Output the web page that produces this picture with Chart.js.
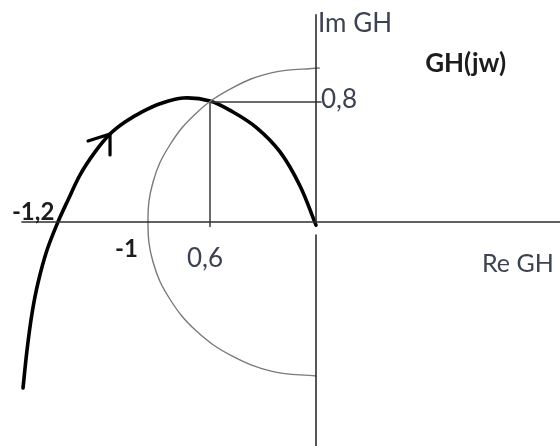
<!DOCTYPE html>
<html>
<head>
<meta charset="utf-8">
<script src="https://cdn.jsdelivr.net/npm/chart.js@4"></script>
<style>
  html, body { margin: 0; padding: 0; background: #fff; }
  #wrap { width: 560px; height: 446px; position: relative; }
</style>
</head>
<body>
<div id="wrap"><canvas id="c"></canvas></div>
<script>
/* ================================================
   DATA  (unit circle radius = 1)
================================================ */

/* GH(jw) locus, from low frequency (bottom left) to the origin */
const curveRe = [-1.744, -1.720, -1.690, -1.655, -1.601, -1.536, -1.476, -1.405, -1.315, -1.226,
                 -1.137, -1.030, -0.929, -0.792, -0.631, -0.494, -0.351, -0.214, -0.095, 0.000];
const curveIm = [-1.078, -0.831, -0.591, -0.396, -0.182, 0.000, 0.143, 0.305, 0.455, 0.571,
                  0.649, 0.718, 0.768, 0.805, 0.786, 0.714, 0.610, 0.455, 0.234, -0.020];

/* left half of the unit circle */
const circleRe = [0.02, -0.26, -0.50, -0.71, -0.87, -0.97, -1.00, -0.97, -0.87, -0.71, -0.50, -0.26, 0.00];
const circleIm = [1.00, 0.97, 0.87, 0.71, 0.50, 0.26, 0.00, -0.26, -0.50, -0.71, -0.87, -0.97, -1.00];

/* crossing with the unit circle */
const crossRe = -0.631;
const crossIm = 0.779;

/* direction arrow on the locus */
const arrowRe = [-1.357, -1.226, -1.226];
const arrowIm = [0.526, 0.571, 0.435];

const seriesName = 'GH(jw)';
const axisTitles = ['Re GH', 'Im GH'];
const tickLabels = ['-1,2', '-1', '0,6', '0,8'];

/* ================================================
   HELPERS
================================================ */

function pts(xs, ys) {
  return xs.map((x, i) => ({ x, y: ys[i] }));
}

function lineSet(data, color, width, tension = 0) {
  return {
    data,
    showLine: true,
    borderColor: color,
    borderWidth: width,
    pointRadius: 0,
    tension,
    borderCapStyle: 'round',
    borderJoinStyle: 'round',
    fill: false,
  };
}

/* text notes, drawn after the lines */
const notes = [
  { text: axisTitles[1], x: 0.012,  y: 1.234,  bold: false, size: 26 },
  { text: seriesName,    x: 0.650,  y: 0.974,  bold: true,  size: 26 },
  { text: tickLabels[3], x: 0.030,  y: 0.740,  bold: false, size: 26 },
  { text: tickLabels[0], x: -1.810, y: 0.013,  bold: true,  size: 24 },
  { text: tickLabels[1], x: -1.196, y: -0.227, bold: true,  size: 24 },
  { text: tickLabels[2], x: -0.768, y: -0.292, bold: false, size: 26 },
  { text: axisTitles[0], x: 0.988,  y: -0.325, bold: false, size: 25 },
];

const notesPlugin = {
  id: 'notes',
  afterDatasetsDraw(chart) {
    const ctx = chart.ctx;
    const xs = chart.scales.x, ys = chart.scales.y;
    ctx.save();
    ctx.textAlign = 'left';
    ctx.textBaseline = 'alphabetic';
    notes.forEach(n => {
      ctx.font = (n.bold ? 'bold ' : '') + n.size + 'px Lato, "Open Sans", sans-serif';
      ctx.fillStyle = n.bold ? '#1c1c1c' : '#3b4250';
      ctx.fillText(n.text, xs.getPixelForValue(n.x), ys.getPixelForValue(n.y));
    });
    ctx.restore();
  },
};

/* ================================================
   CHART
================================================ */

new Chart(document.getElementById('c').getContext('2d'), {
  type: 'scatter',
  data: {
    datasets: [
      /* axes */
      lineSet([{ x: -1.75, y: 0 }, { x: 1.46, y: 0 }], '#2e2e2e', 1.6),
      lineSet([{ x: 0, y: 1.345 }, { x: 0, y: 0 }], '#2e2e2e', 1.6),
      lineSet([{ x: 0, y: -0.085 }, { x: 0, y: -1.46 }], '#2e2e2e', 1.6),
      /* unit circle */
      lineSet(pts(circleRe, circleIm), '#7a7a7a', 1.4, 0.4),
      /* guides to the crossing point */
      lineSet([{ x: crossRe, y: crossIm }, { x: crossRe, y: -0.03 }], '#3a3a3a', 1.5),
      lineSet([{ x: crossRe, y: crossIm }, { x: 0.03, y: crossIm }], '#3a3a3a', 1.5),
      /* locus + arrow */
      lineSet(pts(curveRe, curveIm), '#000', 3.6, 0.35),
      lineSet(pts(arrowRe, arrowIm), '#000', 3.2),
    ],
  },
  options: {
    responsive: true,
    maintainAspectRatio: false,
    animation: false,
    layout: { padding: 0 },
    plugins: { legend: { display: false }, tooltip: { enabled: false } },
    scales: {
      x: { type: 'linear', display: false, min: -316 / 168, max: 244 / 168 },
      y: { type: 'linear', display: false, min: -224 / 154, max: 222 / 154 },
    },
  },
  plugins: [notesPlugin],
});
</script>
</body>
</html>
